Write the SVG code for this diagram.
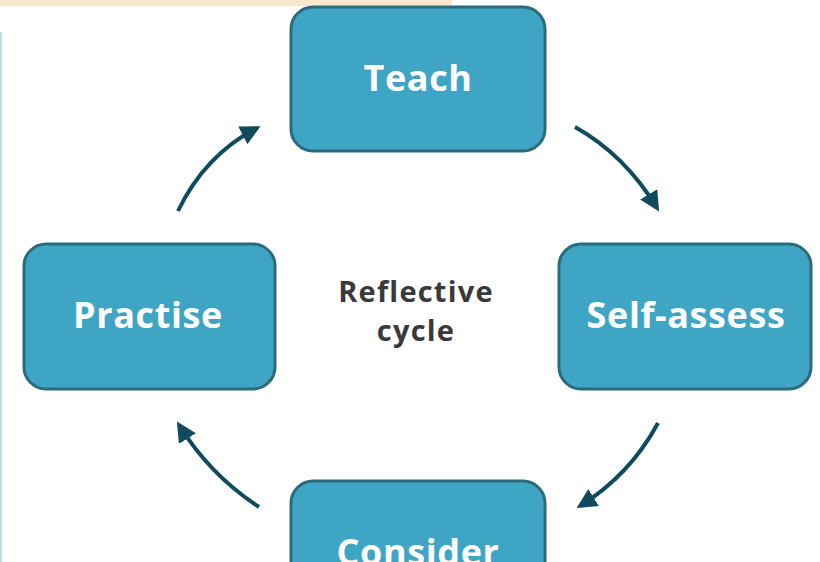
<svg xmlns="http://www.w3.org/2000/svg" width="820" height="562" viewBox="0 0 820 562">
<defs>
<style>
.box{fill:#3EA6C4;stroke:#2A6B7C;stroke-width:3}
.lbl{font-family:"Open Sans","DejaVu Sans",sans-serif;font-weight:bold;font-size:36px;letter-spacing:0.6px;fill:#FFFFFF;text-anchor:middle}
.ctr{font-family:"Open Sans","DejaVu Sans",sans-serif;font-weight:bold;font-size:29px;letter-spacing:1.2px;fill:#3A3A3A;text-anchor:middle}
.arr{fill:none;stroke:#0F4B5D;stroke-width:4;marker-end:url(#ah)}
</style>
<marker id="ah" viewBox="0 0 10 10" refX="8" refY="5" markerWidth="5" markerHeight="5" orient="auto" markerUnits="strokeWidth">
<path d="M0,0 L10,5 L0,10 z" fill="#0F4B5D"/>
</marker>
</defs>
<rect width="820" height="562" fill="#FFFFFF"/>
<rect x="0" y="0" width="452" height="6" fill="#FBE6CE"/>
<rect x="0" y="32" width="2" height="530" fill="#B5E0E8"/>
<g id="teach">
<rect class="box" x="291" y="7" width="254" height="144" rx="22"/>
<text class="lbl" x="418" y="91">Teach</text>
</g>
<g id="self-assess">
<rect class="box" x="559" y="244" width="252" height="145" rx="22"/>
<text class="lbl" x="686" y="328">Self-assess</text>
</g>
<g id="practise">
<rect class="box" x="24" y="244" width="251" height="145" rx="22"/>
<text class="lbl" x="148" y="328">Practise</text>
</g>
<g id="consider">
<rect class="box" x="291" y="481" width="254" height="144" rx="22"/>
<text class="lbl" x="418" y="565">Consider</text>
</g>
<g id="center">
<text class="ctr" x="416" y="302">Reflective</text>
<text class="ctr" x="416" y="341">cycle</text>
</g>
<g id="connectors">
<path class="arr" d="M575,127 Q625,155 657,208"/>
<path class="arr" d="M658,423 Q630,475 580,506"/>
<path class="arr" d="M259,507 Q210,475 179,425"/>
<path class="arr" d="M178,211 Q205,155 257,128"/>
</g>
</svg>
